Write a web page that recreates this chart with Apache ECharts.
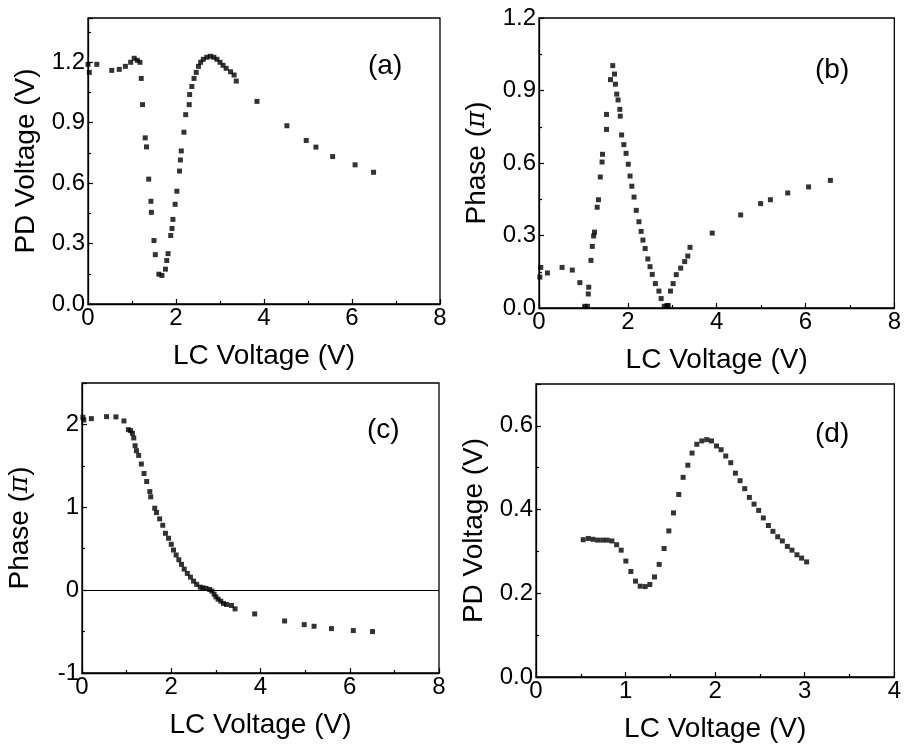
<!DOCTYPE html>
<html>
<head>
<meta charset="utf-8">
<script src="https://cdn.jsdelivr.net/npm/echarts@6/dist/echarts.min.js"></script>
<style>html,body{margin:0;padding:0;background:#fff;}#c{width:904px;height:750px;}</style>
</head>
<body>
<div id="c"></div>
<script>
// Panel (a): PD Voltage vs LC Voltage
const aX = [0.00,0.03,0.20,0.54,0.71,0.85,0.97,1.05,1.12,1.18,1.21,1.24,1.30,1.33,1.38,1.43,1.44,1.50,1.53,1.61,1.68,1.76,1.79,1.82,1.88,1.91,1.93,1.98,2.02,2.08,2.10,2.12,2.18,2.22,2.30,2.31,2.36,2.41,2.46,2.51,2.56,2.62,2.70,2.78,2.86,2.93,3.00,3.07,3.14,3.24,3.32,3.37,3.84,4.52,4.96,5.18,5.56,6.07,6.49];
const aY = [1.19,1.15,1.19,1.16,1.165,1.18,1.20,1.22,1.21,1.20,1.12,0.99,0.825,0.78,0.62,0.51,0.455,0.315,0.245,0.148,0.142,0.173,0.216,0.25,0.34,0.375,0.42,0.495,0.56,0.66,0.715,0.76,0.853,0.94,0.99,1.04,1.08,1.12,1.15,1.18,1.20,1.215,1.225,1.23,1.225,1.215,1.20,1.185,1.17,1.153,1.137,1.107,1.006,0.885,0.812,0.779,0.732,0.691,0.654];

// Panel (b): Phase (pi) vs LC Voltage
const bX = [0.02,0.04,0.19,0.52,0.75,0.92,1.03,1.09,1.11,1.12,1.17,1.20,1.23,1.25,1.31,1.34,1.38,1.42,1.43,1.52,1.52,1.61,1.66,1.70,1.72,1.75,1.78,1.82,1.83,1.86,1.91,1.96,2.01,2.05,2.09,2.14,2.19,2.25,2.30,2.34,2.39,2.45,2.50,2.55,2.62,2.70,2.75,2.82,2.88,2.91,2.96,3.02,3.09,3.19,3.28,3.35,3.40,3.90,4.54,4.99,5.21,5.60,6.07,6.56];
const bY = [0.128,0.168,0.145,0.168,0.157,0.105,0.007,0.007,0.058,0.086,0.197,0.255,0.298,0.314,0.417,0.448,0.542,0.604,0.636,0.739,0.801,0.945,1.003,0.968,0.926,0.885,0.861,0.822,0.794,0.716,0.676,0.640,0.595,0.546,0.504,0.459,0.404,0.357,0.317,0.281,0.246,0.203,0.171,0.139,0.101,0.070,0.039,0.007,0.010,0.010,0.070,0.101,0.138,0.165,0.192,0.215,0.251,0.310,0.385,0.432,0.448,0.476,0.501,0.528];

// Panel (c): Phase (pi) vs LC Voltage
const cX = [0.02,0.04,0.21,0.55,0.76,0.94,1.04,1.09,1.13,1.16,1.19,1.22,1.27,1.33,1.39,1.45,1.52,1.54,1.63,1.67,1.74,1.81,1.87,1.94,2.00,2.05,2.11,2.17,2.23,2.29,2.36,2.43,2.50,2.57,2.65,2.71,2.78,2.86,2.91,2.96,3.00,3.05,3.11,3.17,3.24,3.35,3.43,3.87,4.54,4.98,5.20,5.59,6.08,6.51];
const cY = [2.086,2.054,2.070,2.094,2.091,2.042,1.937,1.925,1.892,1.837,1.743,1.683,1.626,1.522,1.408,1.311,1.190,1.126,0.989,0.936,0.860,0.783,0.686,0.626,0.553,0.484,0.424,0.367,0.311,0.254,0.202,0.157,0.109,0.069,0.036,0.028,0.021,0.008,-0.012,-0.048,-0.081,-0.109,-0.133,-0.161,-0.173,-0.185,-0.226,-0.287,-0.372,-0.416,-0.436,-0.464,-0.488,-0.500];

// Panel (d): PD Voltage vs LC Voltage
const dX = [0.527,0.583,0.635,0.688,0.744,0.795,0.847,0.900,0.951,1.003,1.059,1.111,1.163,1.219,1.271,1.323,1.375,1.430,1.483,1.535,1.594,1.642,1.695,1.742,1.795,1.851,1.906,1.959,2.015,2.066,2.118,2.174,2.226,2.278,2.330,2.382,2.434,2.486,2.538,2.594,2.645,2.698,2.750,2.806,2.857,2.913,2.965,3.021];
const dY = [0.328,0.331,0.329,0.327,0.327,0.327,0.325,0.316,0.303,0.277,0.252,0.229,0.217,0.216,0.221,0.239,0.269,0.307,0.349,0.392,0.436,0.477,0.506,0.535,0.556,0.564,0.567,0.564,0.552,0.543,0.528,0.512,0.487,0.469,0.450,0.429,0.413,0.398,0.380,0.362,0.348,0.335,0.325,0.312,0.303,0.292,0.284,0.275];

const xTitle = 'LC Voltage (V)';
const pdTitle = 'PD Voltage (V)';
const panelTags = ['(a)', '(b)', '(c)', '(d)'];

const FONT = '"Liberation Sans", Arial, sans-serif';
const zip = (xs, ys) => xs.map((x, i) => [x, ys[i]]);

function fmt(step, dec) {
  return function (v) {
    const k = v / step;
    if (Math.abs(k - Math.round(k)) > 1e-6) return '';
    return v.toFixed(dec);
  };
}

function xAx(gi, min, max, interval, minorSplit) {
  return {
    type: 'value', gridIndex: gi, min: min, max: max, interval: interval,
    axisLine: { show: true, onZero: false, lineStyle: { color: '#000', width: 1.3 } },
    axisTick: { show: true, inside: true, length: 5, lineStyle: { color: '#000', width: 1.2 } },
    minorTick: { show: true, splitNumber: minorSplit, length: 3, lineStyle: { color: '#000', width: 1.2 } },
    splitLine: { show: false },
    axisLabel: { color: '#000', fontSize: 24, fontFamily: FONT, margin: 2, formatter: fmt(interval, 0) },
    name: xTitle, nameLocation: 'middle', nameGap: 38,
    nameTextStyle: { color: '#000', fontSize: 28, fontFamily: FONT }
  };
}

function yAx(gi, min, max, interval, dec, name) {
  return {
    type: 'value', gridIndex: gi, min: min, max: max, interval: interval,
    axisLine: { show: true, onZero: false, lineStyle: { color: '#000', width: 1.3 } },
    axisTick: { show: true, inside: true, length: 5, lineStyle: { color: '#000', width: 1.2 } },
    minorTick: { show: true, splitNumber: 2, length: 3, lineStyle: { color: '#000', width: 1.2 } },
    splitLine: { show: false },
    axisLabel: { color: '#000', fontSize: 24, fontFamily: FONT, margin: 3, formatter: fmt(interval, dec) },
    name: name, nameLocation: 'middle', nameGap: 48, nameRotate: 90,
    nameTextStyle: {
      color: '#000', fontSize: 28, fontFamily: FONT,
      rich: {
        t: { fontSize: 28, fontFamily: FONT, color: '#000' },
        p: { fontSize: 26, fontFamily: '"DejaVu Serif", serif', fontStyle: 'italic', color: '#000' }
      }
    }
  };
}

const phaseName = '{t|Phase (}{p|π}{t|)}';

function scat(gi, data, extra) {
  return Object.assign({
    type: 'scatter', xAxisIndex: gi, yAxisIndex: gi, data: data,
    symbol: 'rect', symbolSize: 5, itemStyle: { color: '#000' },
    silent: true, animation: false
  }, extra || {});
}

const gridBase = { show: true, borderColor: '#000', borderWidth: 1.3, backgroundColor: '#fff', containLabel: false };

const option = {
  animation: false,
  backgroundColor: '#fff',
  grid: [
    Object.assign({ left: 88, right: 464, top: 18, bottom: 446 }, gridBase),
    Object.assign({ left: 539, right: 8, top: 18, bottom: 442 }, gridBase),
    Object.assign({ left: 82, right: 465, top: 383, bottom: 77 }, gridBase),
    Object.assign({ left: 536, right: 9, top: 384, bottom: 73 }, gridBase)
  ],
  xAxis: [
    xAx(0, 0, 8, 2, 2),
    xAx(1, 0, 8, 2, 2),
    xAx(2, 0, 8, 2, 2),
    xAx(3, 0, 4, 1, 2)
  ],
  yAxis: [
    yAx(0, 0, 1.42, 0.3, 1, pdTitle),
    yAx(1, 0, 1.2, 0.3, 1, phaseName),
    yAx(2, -1, 2.5, 1, 0, phaseName),
    yAx(3, 0, 0.7, 0.2, 1, pdTitle)
  ],
  series: [
    scat(0, zip(aX, aY)),
    scat(1, zip(bX, bY)),
    scat(2, zip(cX, cY), {
      markLine: {
        silent: true, symbol: 'none', animation: false,
        label: { show: false },
        lineStyle: { color: '#000', type: 'solid', width: 1.2 },
        data: [{ yAxis: 0 }]
      }
    }),
    scat(3, zip(dX, dY))
  ],
  graphic: [
    { type: 'text', left: 368, top: 52, style: { text: panelTags[0], font: '28px ' + FONT, fill: '#000' } },
    { type: 'text', left: 815, top: 56, style: { text: panelTags[1], font: '28px ' + FONT, fill: '#000' } },
    { type: 'text', left: 367, top: 416, style: { text: panelTags[2], font: '28px ' + FONT, fill: '#000' } },
    { type: 'text', left: 815, top: 420, style: { text: panelTags[3], font: '28px ' + FONT, fill: '#000' } }
  ]
};

const chart = echarts.init(document.getElementById('c'), null, { renderer: 'canvas' });
chart.setOption(option);
</script>
</body>
</html>
